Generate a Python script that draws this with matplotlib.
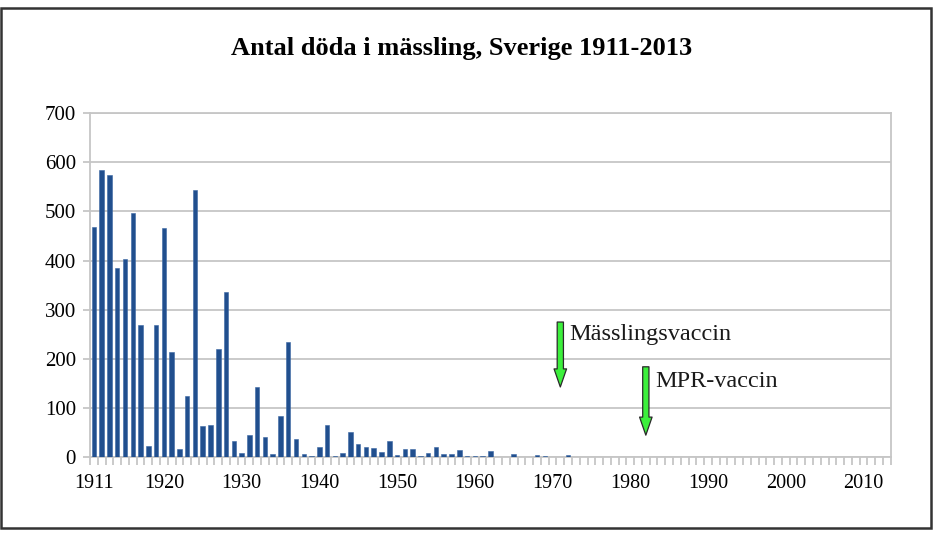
import numpy as np
import matplotlib
matplotlib.use("Agg")
import matplotlib.pyplot as plt
from matplotlib.patches import Rectangle
from matplotlib.ticker import FixedLocator

plt.rcParams['font.family'] = ['Liberation Serif', 'DejaVu Serif']

# antal döda i mässling per år
years = list(range(1911, 2014))
deaths = [469, 585, 573, 384, 404, 496, 268, 22, 268, 467,
          215, 16, 125, 544, 64, 66, 221, 337, 33, 9,
          46, 142, 41, 7, 83, 235, 37, 7, 2, 21,
          66, 3, 9, 52, 27, 20, 19, 10, 34, 5,
          16, 16, 3, 8, 20, 6, 6, 15, 3, 3,
          3, 12, 1, 1, 7, 1, 1, 4, 2, 1,
          1, 4, 1, 0, 1, 0, 1, 1, 1, 0,
          0, 0, 1, 0, 0, 0, 0, 0, 0, 0,
          0, 0, 1, 0, 0, 0, 0, 0, 0, 1,
          0, 0, 0, 0, 1, 1, 1, 0, 1, 0,
          0, 0, 0]
x_labels = [1911, 1920, 1930, 1940, 1950, 1960, 1970, 1980, 1990, 2000, 2010]
y_ticks = [0, 100, 200, 300, 400, 500, 600, 700]

# vaccinpilar: (år, start, slut, text, textens höjd)
vaccines = [(1971, 275, 143, 'Mässlingsvaccin', 250),
            (1982, 184, 45, 'MPR-vaccin', 155)]

grid_col = '#c6c6c6'
bar_col = '#214f8e'

fig = plt.figure(figsize=(9.4, 5.36), dpi=100)
ax = fig.add_axes([90/940, 1-457.3/536, 800.7/940, (457.3-113)/536])

ax.bar(years, deaths, width=0.58, color=bar_col, edgecolor='#3a67a3', linewidth=0.4, zorder=3)

ax.set_xlim(years[0]-0.5, years[-1]+0.5)
ax.set_ylim(0, 700)
ax.set_yticks(y_ticks)
ax.set_xticks(x_labels)
ax.xaxis.set_minor_locator(FixedLocator(np.arange(years[0]-0.5, years[-1]+1, 1)))
ax.tick_params(axis='x', which='major', length=0, pad=12, labelsize=14.5)
ax.tick_params(axis='x', which='minor', length=6, width=1.3, color=grid_col)
ax.tick_params(axis='y', length=5, width=1.3, color=grid_col, pad=5, labelsize=15)
ax.yaxis.grid(True, color=grid_col, linewidth=1.3, zorder=0)
for s in ax.spines.values():
    s.set_color(grid_col)
    s.set_linewidth(1.3)

for yr, y0, y1, label, ty in vaccines:
    ax.annotate('', xy=(yr, y1), xytext=(yr, y0),
                arrowprops=dict(arrowstyle='simple,head_length=1.3,head_width=0.9,tail_width=0.45',
                                fc='#3cf03c', ec='#2a2a2a', lw=0.9, shrinkA=0, shrinkB=0,
                                mutation_scale=10), zorder=5)
    ax.text(yr + 1.2, ty, label, fontsize=17.5, va='center', ha='left', color='#1a1a1a', zorder=6)

fig.text(462/940, 1-48/536, 'Antal döda i mässling, Sverige 1911-2013',
         fontsize=19, fontweight='bold', ha='center', va='center')

fig.patches.append(Rectangle((1/940, 8/536), 929.5/940, 520/536, transform=fig.transFigure,
                             fill=False, edgecolor='#333333', linewidth=1.8))

fig.savefig('out.png', dpi=100)
